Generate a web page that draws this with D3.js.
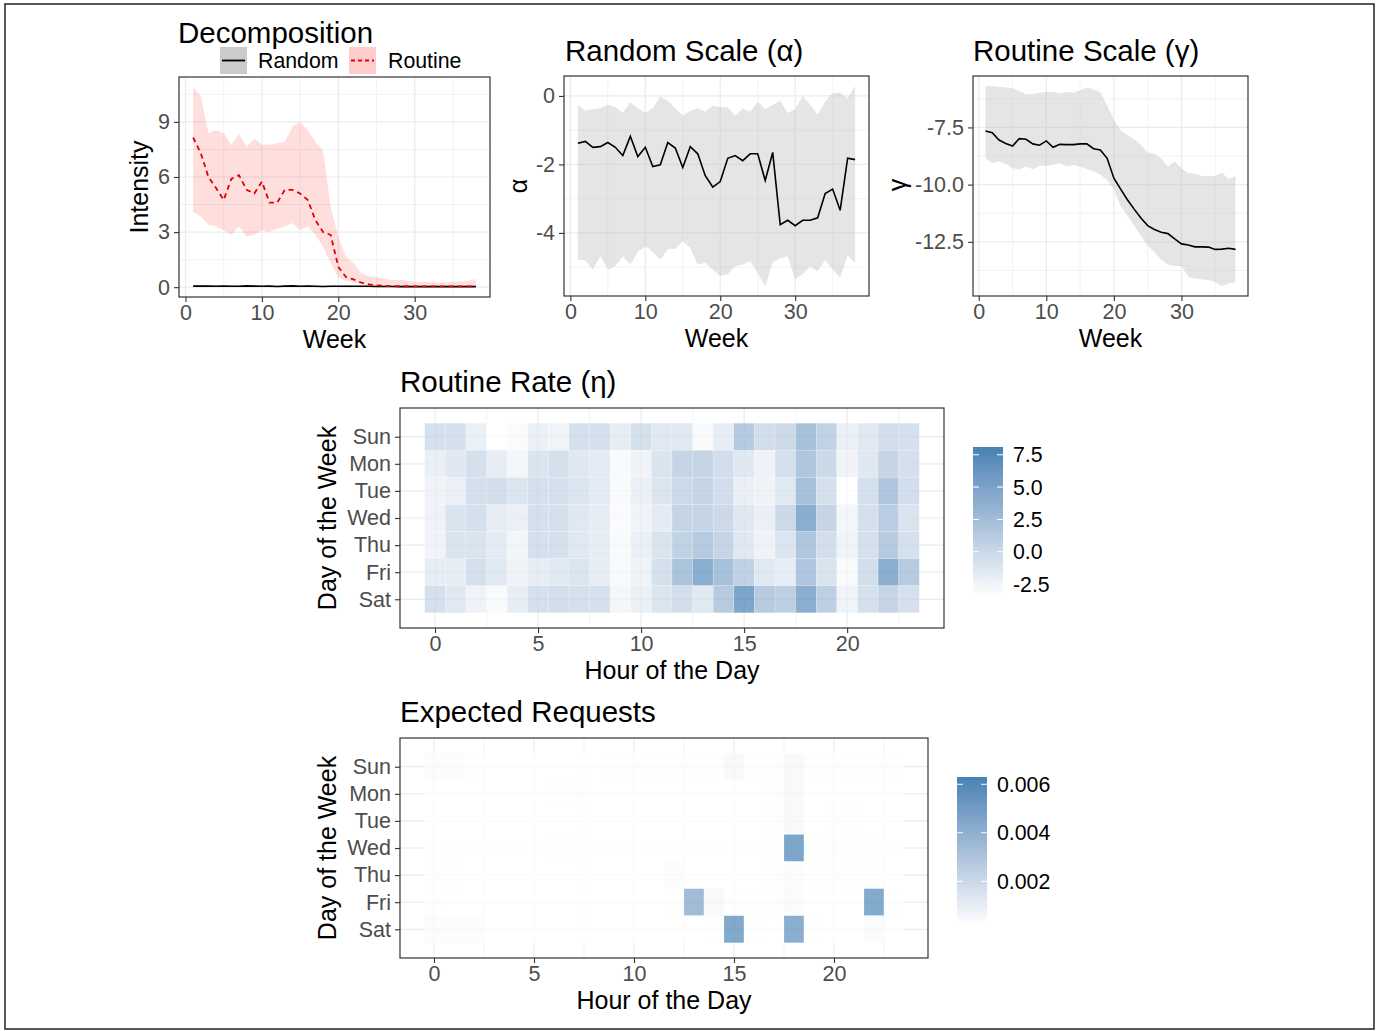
<!DOCTYPE html>
<html lang="en">
<head>
<meta charset="UTF-8">
<title>Routine Decomposition</title>
<script src="https://d3js.org/d3.v7.min.js"></script>
<style>
  body { margin: 0; background: #fff; }
  text { font-family: "Liberation Sans", Arial, sans-serif; }
</style>
</head>
<body>
<svg width="1377" height="1031"></svg>
<script>
    // ---- data ----
    const weeks = d3.range(1, 39)

    const routineMean = [8.15,7.3,6.0,5.4,4.75,5.9,6.1,5.3,5.1,5.75,4.6,4.6,5.3,5.3,5.1,4.75,3.65,3.0,2.85,1.1,0.55,0.42,0.25,0.15,0.1,0.08,0.06,0.05,0.05,0.04,0.04,0.04,0.04,0.04,0.04,0.04,0.04,0.05]
    const routineHi = [10.9,10.4,8.4,8.55,8.4,7.75,8.35,7.65,8.1,7.75,7.75,7.85,7.9,8.75,9.0,8.55,7.9,7.45,4.4,2.75,1.65,1.3,0.75,0.6,0.56,0.47,0.38,0.42,0.35,0.3,0.28,0.27,0.25,0.25,0.3,0.32,0.35,0.45]
    const routineLo = [4.1,3.85,3.4,3.3,3.1,2.85,3.3,2.75,2.85,3.1,3.0,3.2,3.3,3.5,3.1,3.3,2.85,2.2,1.3,0.55,0.35,0.25,0.15,0.1,0.08,0.06,0.05,0.04,0.03,0.03,0.02,0.02,0.02,0.02,0.02,0.02,0.02,0.02]

    const randomMean = [0.06,0.06,0.06,0.05,0.06,0.05,0.05,0.07,0.06,0.05,0.06,0.04,0.06,0.07,0.05,0.06,0.05,0.04,0.05,0.05,0.05,0.05,0.05,0.05,0.04,0.04,0.04,0.03,0.03,0.03,0.03,0.03,0.03,0.03,0.03,0.03,0.03,0.03]
    const randomHi = [0.1,0.1,0.1,0.09,0.1,0.09,0.09,0.11,0.1,0.09,0.1,0.08,0.1,0.11,0.09,0.1,0.09,0.08,0.09,0.09,0.09,0.09,0.09,0.09,0.08,0.08,0.08,0.07,0.07,0.07,0.07,0.07,0.07,0.07,0.07,0.07,0.07,0.07]
    const randomLo = [0.03,0.03,0.03,0.02,0.03,0.02,0.02,0.04,0.03,0.02,0.03,0.02,0.03,0.04,0.02,0.03,0.02,0.02,0.02,0.02,0.02,0.02,0.02,0.02,0.02,0.02,0.02,0.01,0.01,0.01,0.01,0.01,0.01,0.01,0.01,0.01,0.01,0.01]

    const alphaMean = [-1.38,-1.33,-1.5,-1.48,-1.36,-1.5,-1.74,-1.18,-1.77,-1.5,-2.06,-2.01,-1.36,-1.52,-2.09,-1.48,-1.69,-2.33,-2.66,-2.5,-1.82,-1.74,-1.89,-1.69,-1.69,-2.47,-1.65,-3.76,-3.63,-3.79,-3.63,-3.63,-3.56,-2.85,-2.72,-3.34,-1.82,-1.86]
    const alphaHi = [-0.26,-0.43,-0.39,-0.36,-0.26,-0.33,-0.49,-0.19,-0.36,-0.49,-0.36,-0.02,-0.14,-0.36,-0.58,-0.43,-0.36,-0.46,-0.29,-0.33,-0.33,-0.58,-0.36,-0.46,-0.17,-0.39,-0.26,-0.14,-0.5,-0.39,0.0,-0.26,-0.55,-0.17,0.08,0.1,-0.07,0.29]
    const alphaLo = [-4.78,-4.8,-5.07,-4.68,-5.07,-4.97,-4.68,-4.92,-4.56,-4.39,-4.56,-4.78,-4.47,-4.47,-4.24,-4.43,-4.92,-4.87,-5.07,-5.26,-5.21,-4.97,-4.92,-4.83,-5.17,-5.55,-4.87,-4.73,-4.68,-5.36,-5.21,-4.97,-5.12,-4.78,-5.07,-5.31,-4.66,-4.87]

    const gammaMean = [-7.66,-7.73,-8.05,-8.2,-8.31,-7.99,-8.02,-8.22,-8.28,-8.09,-8.37,-8.24,-8.25,-8.25,-8.22,-8.22,-8.43,-8.49,-8.85,-9.72,-10.2,-10.66,-11.07,-11.46,-11.79,-11.96,-12.08,-12.14,-12.37,-12.59,-12.64,-12.72,-12.72,-12.73,-12.83,-12.82,-12.78,-12.83]
    const gammaHi = [-5.69,-5.7,-5.73,-5.76,-5.79,-5.91,-6.05,-6.05,-5.99,-5.95,-5.95,-6.02,-5.95,-5.99,-5.88,-5.76,-5.85,-5.95,-6.53,-7.18,-7.62,-7.83,-8.02,-8.27,-8.6,-8.66,-8.85,-9.21,-8.99,-9.28,-9.5,-9.53,-9.62,-9.62,-9.62,-9.47,-9.76,-9.62]
    const gammaLo = [-8.85,-9.07,-8.99,-9.09,-9.28,-9.33,-9.21,-9.33,-9.18,-9.18,-9.14,-9.07,-9.21,-9.14,-9.21,-9.33,-9.43,-9.57,-9.79,-10.22,-10.95,-11.36,-11.79,-12.25,-12.66,-12.95,-13.27,-13.49,-13.56,-13.56,-14.02,-14.11,-14.14,-14.17,-14.25,-14.43,-14.31,-14.28]

    const days = ['Sun','Mon','Tue','Wed','Thu','Fri','Sat']
    const hours = d3.range(0, 24)

    // routine rate (eta), rows = days, cols = hours 0..23
    const rateValues = [
        [0.4,0.4,-1.6,-3.5,-3.1,-1.6,-2.1,0.4,0.4,-1.2,0.4,-0.6,-0.6,-2.9,-1.2,3.3,0.7,1.3,4.6,2.3,-1.6,-0.6,0.7,0.4],
        [-1.6,-0.6,0.4,-1.2,-2.5,-0.2,0.4,-0.6,-1.0,-2.9,-2.1,-0.2,1.9,1.9,0.7,-0.6,-2.0,0.4,3.8,1.3,-2.1,-0.6,1.9,0.4],
        [-2.0,-1.6,0.4,0.7,-0.2,0.4,0.4,-0.2,-1.0,-2.9,-1.6,-0.2,1.3,1.9,0.7,-1.6,-2.0,-0.6,4.6,0.4,-3.5,0.4,3.8,0.7],
        [-2.0,0.0,0.4,-1.2,-1.6,0.4,0.4,-0.6,-1.2,-3.1,-2.1,-1.0,1.9,1.9,1.3,-0.6,-1.6,1.3,7.1,1.9,-2.5,0.4,2.9,0.0],
        [-2.1,0.0,0.0,-1.0,-2.3,0.4,0.4,-0.6,-1.2,-2.9,-1.6,0.0,2.3,3.3,1.9,-0.6,-2.0,-0.2,3.8,0.7,-2.1,0.4,3.3,0.4],
        [-1.2,-1.2,0.4,-0.6,-2.0,-1.2,-0.6,-0.2,-1.2,-2.7,-2.0,0.4,4.2,7.1,4.6,2.3,-0.6,-1.2,3.8,0.0,-2.9,0.7,7.1,3.3],
        [0.4,-0.6,-2.0,-2.9,-1.2,0.4,0.7,0.4,0.4,-2.5,-1.6,-0.2,0.7,-0.6,3.3,8.1,3.3,2.7,7.1,2.7,-2.1,0.4,1.9,0.4]
    ]
    const rateTicks = [-2.5, 0, 2.5, 5, 7.5]

    // expected requests
    const expectedValues = [
        [0.0004,0.0004,0.0003,0.0002,0.0002,0.0002,0.0002,0.0002,0.0002,0.0003,0.0003,0.0003,0.0003,0.0003,0.0003,0.0006,0.0003,0.0003,0.0006,0.0003,0.0003,0.0003,0.0003,0.0003],
        [0.0002,0.0002,0.0002,0.0002,0.0002,0.0002,0.0003,0.0003,0.0002,0.0002,0.0002,0.0002,0.0002,0.0002,0.0002,0.0002,0.0002,0.0003,0.0006,0.0002,0.0002,0.0002,0.0002,0.0002],
        [0.0002,0.0002,0.0002,0.0002,0.0002,0.0002,0.0002,0.0002,0.0002,0.0002,0.0002,0.0002,0.0002,0.0002,0.0002,0.0002,0.0002,0.0003,0.0006,0.0002,0.0003,0.0003,0.0002,0.0002],
        [0.0002,0.0002,0.0002,0.0002,0.0002,0.0002,0.0003,0.0003,0.0002,0.0002,0.0002,0.0002,0.0002,0.0002,0.0002,0.0002,0.0002,0.0003,0.0063,0.0003,0.0003,0.0003,0.0003,0.0002],
        [0.0003,0.0003,0.0002,0.0002,0.0002,0.0002,0.0002,0.0002,0.0002,0.0002,0.0002,0.0002,0.0004,0.0002,0.0002,0.0002,0.0002,0.0003,0.0004,0.0003,0.0003,0.0003,0.0003,0.0002],
        [0.0003,0.0002,0.0002,0.0002,0.0002,0.0002,0.0002,0.0002,0.0002,0.0002,0.0002,0.0002,0.0003,0.0048,0.0006,0.0003,0.0003,0.0003,0.0005,0.0002,0.0002,0.0002,0.0061,0.0003],
        [0.0004,0.0004,0.0004,0.0002,0.0002,0.0002,0.0002,0.0002,0.0002,0.0002,0.0002,0.0002,0.0002,0.0002,0.0003,0.0062,0.0003,0.0002,0.0058,0.0003,0.0002,0.0002,0.0005,0.0002]
    ]
    const expectedTicks = [0.002, 0.004, 0.006]

    // ---- drawing ----
    let svg = d3.select('svg')
    const grid = '#ebebeb'
    const tickColor = '#4d4d4d'

    svg.append('rect')
        .attr('x', 5).attr('y', 4).attr('width', 1369).attr('height', 1025)
        .attr('fill', 'none').attr('stroke', '#222').attr('stroke-width', 1.5)

    function expand(lo, hi) {
        let d = (hi - lo) * 0.05
        return [lo - d, hi + d]
    }

    // ggplot prints a plain hyphen, d3 a unicode minus
    function hyphen(fmt) {
        return d => fmt(d).replace('\u2212', '-')
    }

    function styleAxis(g) {
        g.select('.domain').remove()
        g.selectAll('.tick line').attr('stroke', '#333').attr('stroke-width', 1.1)
        g.selectAll('.tick text').attr('fill', tickColor).attr('font-size', 21.5)
            .attr('font-family', '"Liberation Sans", Arial, sans-serif')
    }

    function drawGrid(g, x, y, box, xMajor, xMinor, yMajor, yMinor) {
        g.selectAll(null).data(xMinor).join('line')
            .attr('x1', d => x(d)).attr('x2', d => x(d)).attr('y1', box.top).attr('y2', box.bottom)
            .attr('stroke', grid).attr('stroke-width', 0.6)
        g.selectAll(null).data(yMinor).join('line')
            .attr('y1', d => y(d)).attr('y2', d => y(d)).attr('x1', box.left).attr('x2', box.right)
            .attr('stroke', grid).attr('stroke-width', 0.6)
        g.selectAll(null).data(xMajor).join('line')
            .attr('x1', d => x(d)).attr('x2', d => x(d)).attr('y1', box.top).attr('y2', box.bottom)
            .attr('stroke', grid).attr('stroke-width', 1.2)
        g.selectAll(null).data(yMajor).join('line')
            .attr('y1', d => y(d)).attr('y2', d => y(d)).attr('x1', box.left).attr('x2', box.right)
            .attr('stroke', grid).attr('stroke-width', 1.2)
    }

    function linePanel(box, yData, yMajor, yMinor, yFmt) {
        let g = svg.append('g')
        let x = d3.scaleLinear().domain(expand(1, 38)).range([box.left, box.right])
        let y = d3.scaleLinear().domain(expand(d3.min(yData), d3.max(yData))).range([box.bottom, box.top])
        drawGrid(g, x, y, box, [0, 10, 20, 30], [5, 15, 25, 35], yMajor, yMinor)

        g.append('g').attr('transform', `translate(0,${box.bottom})`)
            .call(d3.axisBottom(x).tickValues([0, 10, 20, 30]).tickSize(5).tickPadding(3))
            .call(styleAxis)
        g.append('g').attr('transform', `translate(${box.left},0)`)
            .call(d3.axisLeft(y).tickValues(yMajor).tickSize(5).tickPadding(4).tickFormat(hyphen(yFmt)))
            .call(styleAxis)

        g.append('text').attr('x', (box.left + box.right) / 2).attr('y', box.bottom + 51)
            .attr('text-anchor', 'middle').attr('font-size', 25).text('Week')
        return {g, x, y}
    }

    function ribbon(p, lo, hi, fill, opacity) {
        let area = d3.area()
            .x((d, i) => p.x(weeks[i]))
            .y0((d, i) => p.y(lo[i]))
            .y1((d, i) => p.y(hi[i]))
        p.g.append('path').datum(weeks).attr('d', area)
            .attr('fill', fill).attr('fill-opacity', opacity)
    }

    function line(p, vals, color, dash, width) {
        let ln = d3.line().x((d, i) => p.x(weeks[i])).y(d => p.y(d))
        p.g.append('path').datum(vals).attr('d', ln)
            .attr('fill', 'none').attr('stroke', color).attr('stroke-width', width)
            .attr('stroke-dasharray', dash)
    }

    function border(p, box) {
        p.g.append('rect').attr('x', box.left).attr('y', box.top)
            .attr('width', box.right - box.left).attr('height', box.bottom - box.top)
            .attr('fill', 'none').attr('stroke', '#333').attr('stroke-width', 1.2)
    }

    function yTitle(x, y, label) {
        svg.append('text').attr('transform', `translate(${x},${y}) rotate(-90)`)
            .attr('text-anchor', 'middle').attr('font-size', 25).text(label)
    }

    function title(x, y, label) {
        svg.append('text').attr('x', x).attr('y', y).attr('font-size', 29.5).text(label)
    }

    // panel 1: decomposition
    let box1 = {left: 179, right: 490, top: 77, bottom: 297}
    let p1 = linePanel(box1, routineHi.concat(routineLo, randomLo),
        [0, 3, 6, 9], [1.5, 4.5, 7.5, 10.5], d3.format('d'))
    ribbon(p1, randomLo, randomHi, '#7f7f7f', 0.3)
    ribbon(p1, routineLo, routineHi, '#ff0000', 0.13)
    line(p1, randomMean, '#000', null, 1.6)
    line(p1, routineMean, '#e00000', '5,4', 1.8)
    border(p1, box1)
    yTitle(148, 187, 'Intensity')
    title(178, 43, 'Decomposition')

    // legend for panel 1
    let leg = svg.append('g')
    leg.append('rect').attr('x', 220).attr('y', 47).attr('width', 27).attr('height', 27).attr('fill', '#cbcbcb')
    leg.append('line').attr('x1', 222).attr('x2', 245).attr('y1', 60.5).attr('y2', 60.5)
        .attr('stroke', '#000').attr('stroke-width', 1.8)
    leg.append('text').attr('x', 258).attr('y', 68).attr('font-size', 21.3).text('Random')
    leg.append('rect').attr('x', 349).attr('y', 47).attr('width', 27).attr('height', 27).attr('fill', '#ffcccc')
    leg.append('line').attr('x1', 351).attr('x2', 374).attr('y1', 60.5).attr('y2', 60.5)
        .attr('stroke', '#e00000').attr('stroke-width', 1.8).attr('stroke-dasharray', '4,3')
    leg.append('text').attr('x', 388).attr('y', 68).attr('font-size', 21.3).text('Routine')

    // panel 2: random scale
    let box2 = {left: 564, right: 869, top: 76, bottom: 296}
    let p2 = linePanel(box2, alphaHi.concat(alphaLo), [0, -2, -4], [-1, -3, -5], d3.format('d'))
    ribbon(p2, alphaLo, alphaHi, '#bebebe', 0.4)
    line(p2, alphaMean, '#000', null, 1.6)
    border(p2, box2)
    yTitle(527, 186, 'α')
    title(565, 61, 'Random Scale (α)')

    // panel 3: routine scale
    let box3 = {left: 973, right: 1248, top: 76, bottom: 296}
    let p3 = linePanel(box3, gammaHi.concat(gammaLo), [-7.5, -10, -12.5], [-6.25, -8.75, -11.25, -13.75], d3.format('.1f'))
    ribbon(p3, gammaLo, gammaHi, '#bebebe', 0.4)
    line(p3, gammaMean, '#000', null, 1.6)
    border(p3, box3)
    yTitle(906, 185, 'γ')
    title(973, 61, 'Routine Scale (γ)')

    // heatmaps
    function heatmap(box, values, ticks, tickFmt, bar, label, titleY) {
        let g = svg.append('g')
        let x = d3.scaleLinear().domain(expand(-0.5, 23.5)).range([box.left, box.right])
        let y = d3.scaleLinear().domain([-1.06, 7.06]).range([box.top, box.bottom])
        let flat = values.flat()
        let cDomain = d3.extent(flat)
        let color = d3.scaleLinear().domain(cDomain).range(['white', 'steelblue']).interpolate(d3.interpolateLab)

        drawGrid(g, x, y, box, [0, 5, 10, 15, 20], [2.5, 7.5, 12.5, 17.5, 22.5], d3.range(7), [])

        let cells = []
        values.forEach((row, di) => row.forEach((v, h) => cells.push({day: di, hour: hours[h], v: v})))
        g.selectAll('rect.cell').data(cells).join('rect').attr('class', 'cell')
            .attr('x', d => x(d.hour - 0.5)).attr('y', d => y(d.day - 0.5))
            .attr('width', x(1) - x(0)).attr('height', y(1) - y(0))
            .attr('fill', d => color(d.v)).attr('fill-opacity', 0.7)
            .attr('stroke', '#fff').attr('stroke-opacity', 0.35).attr('stroke-width', 0.6)

        g.append('rect').attr('x', box.left).attr('y', box.top)
            .attr('width', box.right - box.left).attr('height', box.bottom - box.top)
            .attr('fill', 'none').attr('stroke', '#333').attr('stroke-width', 1.2)

        g.append('g').attr('transform', `translate(0,${box.bottom})`)
            .call(d3.axisBottom(x).tickValues([0, 5, 10, 15, 20]).tickSize(5).tickPadding(3))
            .call(styleAxis)
        g.append('g').attr('transform', `translate(${box.left},0)`)
            .call(d3.axisLeft(y).tickValues(d3.range(7)).tickSize(5).tickPadding(4).tickFormat(i => days[i]))
            .call(styleAxis)

        g.append('text').attr('x', (box.left + box.right) / 2).attr('y', box.bottom + 51)
            .attr('text-anchor', 'middle').attr('font-size', 25).text('Hour of the Day')
        yTitle(336, (box.top + box.bottom) / 2, 'Day of the Week')
        title(box.left, titleY, label)

        // colour bar
        let id = 'grad' + Math.round(box.top)
        let grad = svg.append('defs').append('linearGradient').attr('id', id)
            .attr('x1', 0).attr('x2', 0).attr('y1', 1).attr('y2', 0)
        d3.range(0, 1.001, 0.05).forEach(t => {
            grad.append('stop').attr('offset', t)
                .attr('stop-color', color(cDomain[0] + t * (cDomain[1] - cDomain[0])))
        })
        let by = d3.scaleLinear().domain(cDomain).range([bar.bottom, bar.top])
        let lg = svg.append('g')
        lg.append('rect').attr('x', bar.left).attr('y', bar.top).attr('width', bar.width)
            .attr('height', bar.bottom - bar.top).attr('fill', `url(#${id})`)
        ticks.forEach(t => {
            lg.append('line').attr('x1', bar.left).attr('x2', bar.left + 6).attr('y1', by(t)).attr('y2', by(t))
                .attr('stroke', '#fff').attr('stroke-width', 1)
            lg.append('line').attr('x1', bar.left + bar.width - 6).attr('x2', bar.left + bar.width).attr('y1', by(t)).attr('y2', by(t))
                .attr('stroke', '#fff').attr('stroke-width', 1)
            lg.append('text').attr('x', bar.left + bar.width + 10).attr('y', by(t)).attr('dy', '0.36em')
                .attr('font-size', 21.3).text(hyphen(tickFmt)(t))
        })
    }

    heatmap({left: 400, right: 944, top: 408, bottom: 628}, rateValues, rateTicks, d3.format('.1f'),
        {left: 973, width: 30, top: 447, bottom: 597}, 'Routine Rate (η)', 392)
    heatmap({left: 400, right: 928, top: 738, bottom: 958}, expectedValues, expectedTicks, d3.format('.3f'),
        {left: 957, width: 30, top: 777, bottom: 925}, 'Expected Requests', 722)
</script>
</body>
</html>
